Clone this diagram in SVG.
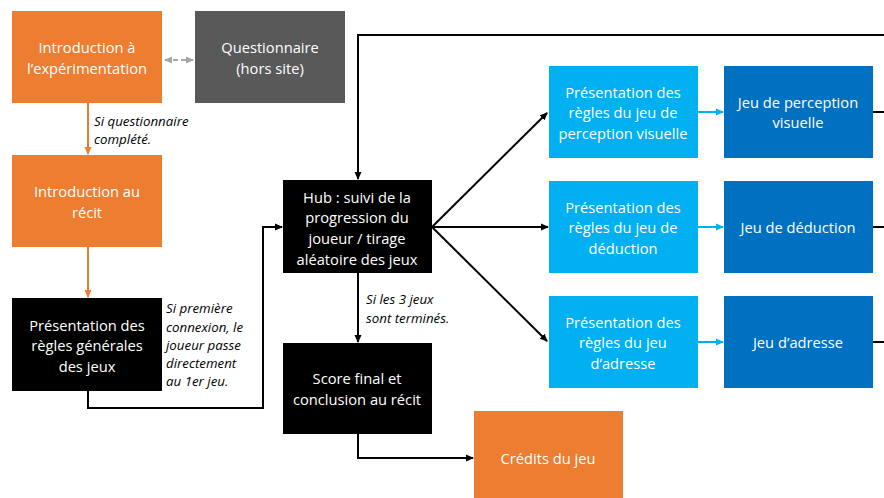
<svg xmlns="http://www.w3.org/2000/svg" width="884" height="498" viewBox="0 0 884 498">
<style>
.t{font-family:"Open Sans","Liberation Sans",sans-serif;font-size:14.7px;fill:#fff;text-anchor:middle;dominant-baseline:central}
.l{font-family:"Open Sans","Liberation Sans",sans-serif;font-size:13.3px;font-style:italic;fill:#000;dominant-baseline:central}
.or{fill:#ED7D31}.gr{fill:#595959}.bk{fill:#000}.lb{fill:#00B0F0}.db{fill:#0070C0}
.c{fill:none;stroke:#000;stroke-width:2}
.co{fill:none;stroke:#ED7D31;stroke-width:2}
.cl{fill:none;stroke:#00B0F0;stroke-width:2}
.cg{fill:none;stroke:#A6A6A6;stroke-width:2;stroke-dasharray:5 3}
</style>
<defs>
<marker id="ab" markerWidth="8" markerHeight="8" refX="7" refY="4" orient="auto" markerUnits="userSpaceOnUse"><path d="M0,0.5 L8,4 L0,7.5 Z" fill="#000"/></marker>
<marker id="ao" markerWidth="8" markerHeight="8" refX="7" refY="4" orient="auto" markerUnits="userSpaceOnUse"><path d="M0,0.5 L8,4 L0,7.5 Z" fill="#ED7D31"/></marker>
<marker id="al" markerWidth="8" markerHeight="8" refX="7" refY="4" orient="auto" markerUnits="userSpaceOnUse"><path d="M0,0.5 L8,4 L0,7.5 Z" fill="#00B0F0"/></marker>
<marker id="ag" markerWidth="8" markerHeight="8" refX="7" refY="4" orient="auto-start-reverse" markerUnits="userSpaceOnUse"><path d="M0,0.5 L8,4 L0,7.5 Z" fill="#A6A6A6"/></marker>
</defs>
<g id="connectors">
<path class="cg" d="M165,60 L193,60" marker-start="url(#ag)" marker-end="url(#ag)"/>
<path class="co" d="M88,103 L88,154" marker-end="url(#ao)"/>
<path class="co" d="M88,247 L88,297" marker-end="url(#ao)"/>
<path class="c" d="M88,391 L88,408 L263,408 L263,227 L282,227" marker-end="url(#ab)"/>
<path class="c" d="M884,35 L358,35 L358,179" marker-end="url(#ab)"/>
<path class="c" d="M432,227 L547,113" marker-end="url(#ab)"/>
<path class="c" d="M432,227 L548,227" marker-end="url(#ab)"/>
<path class="c" d="M432,227 L547,341" marker-end="url(#ab)"/>
<path class="cl" d="M698,112 L723,112" marker-end="url(#al)"/>
<path class="cl" d="M698,227 L723,227" marker-end="url(#al)"/>
<path class="cl" d="M698,342 L723,342" marker-end="url(#al)"/>
<path class="c" d="M873,112 L884,112"/>
<path class="c" d="M873,227 L884,227"/>
<path class="c" d="M873,342 L884,342"/>
<path class="c" d="M358,273 L358,342" marker-end="url(#ab)"/>
<path class="c" d="M358,434 L358,458 L473,458" marker-end="url(#ab)"/>
<text class="l" x="94" y="121">Si questionnaire</text>
<text class="l" x="94" y="139">complété.</text>
<text class="l" x="166" y="308">Si première</text>
<text class="l" x="166" y="327">connexion, le</text>
<text class="l" x="166" y="345">joueur passe</text>
<text class="l" x="166" y="363">directement</text>
<text class="l" x="166" y="381">au 1er jeu.</text>
<text class="l" x="366" y="299">Si les 3 jeux</text>
<text class="l" x="366" y="318">sont terminés.</text>
</g>
<g id="intro-exp"><rect class="or" x="12" y="11" width="150" height="92"/><text class="t" x="87" y="47">Introduction à</text><text class="t" x="87" y="68">l’expérimentation</text></g>
<g id="questionnaire"><rect class="gr" x="195" y="11" width="150" height="92"/><text class="t" x="270" y="47">Questionnaire</text><text class="t" x="270" y="68">(hors site)</text></g>
<g id="intro-recit"><rect class="or" x="12" y="155" width="150" height="92"/><text class="t" x="87" y="191">Introduction au</text><text class="t" x="87" y="212">récit</text></g>
<g id="regles-generales"><rect class="bk" x="12" y="298" width="150" height="93"/><text class="t" x="87" y="325">Présentation des</text><text class="t" x="87" y="345">règles générales</text><text class="t" x="87" y="366">des jeux</text></g>
<g id="hub"><rect class="bk" x="283" y="180" width="149" height="93"/><text class="t" x="357" y="197">Hub : suivi de la</text><text class="t" x="357" y="217">progression du</text><text class="t" x="357" y="238">joueur / tirage</text><text class="t" x="357" y="259">aléatoire des jeux</text></g>
<g id="score"><rect class="bk" x="283" y="343" width="149" height="91"/><text class="t" x="357" y="378">Score final et</text><text class="t" x="357" y="399">conclusion au récit</text></g>
<g id="credits"><rect class="or" x="474" y="411" width="149" height="92"/><text class="t" x="548" y="458">Crédits du jeu</text></g>
<g id="regles-perception"><rect class="lb" x="549" y="66" width="149" height="92"/><text class="t" x="623" y="92">Présentation des</text><text class="t" x="623" y="112">règles du jeu de</text><text class="t" x="623" y="133">perception visuelle</text></g>
<g id="regles-deduction"><rect class="lb" x="549" y="181" width="149" height="92"/><text class="t" x="623" y="207">Présentation des</text><text class="t" x="623" y="227">règles du jeu de</text><text class="t" x="623" y="248">déduction</text></g>
<g id="regles-adresse"><rect class="lb" x="549" y="296" width="149" height="92"/><text class="t" x="623" y="322">Présentation des</text><text class="t" x="623" y="342">règles du jeu</text><text class="t" x="623" y="363">d’adresse</text></g>
<g id="jeu-perception"><rect class="db" x="724" y="66" width="149" height="92"/><text class="t" x="798" y="102">Jeu de perception</text><text class="t" x="798" y="122">visuelle</text></g>
<g id="jeu-deduction"><rect class="db" x="724" y="181" width="149" height="92"/><text class="t" x="798" y="227">Jeu de déduction</text></g>
<g id="jeu-adresse"><rect class="db" x="724" y="296" width="149" height="92"/><text class="t" x="798" y="342">Jeu d’adresse</text></g>
</svg>
